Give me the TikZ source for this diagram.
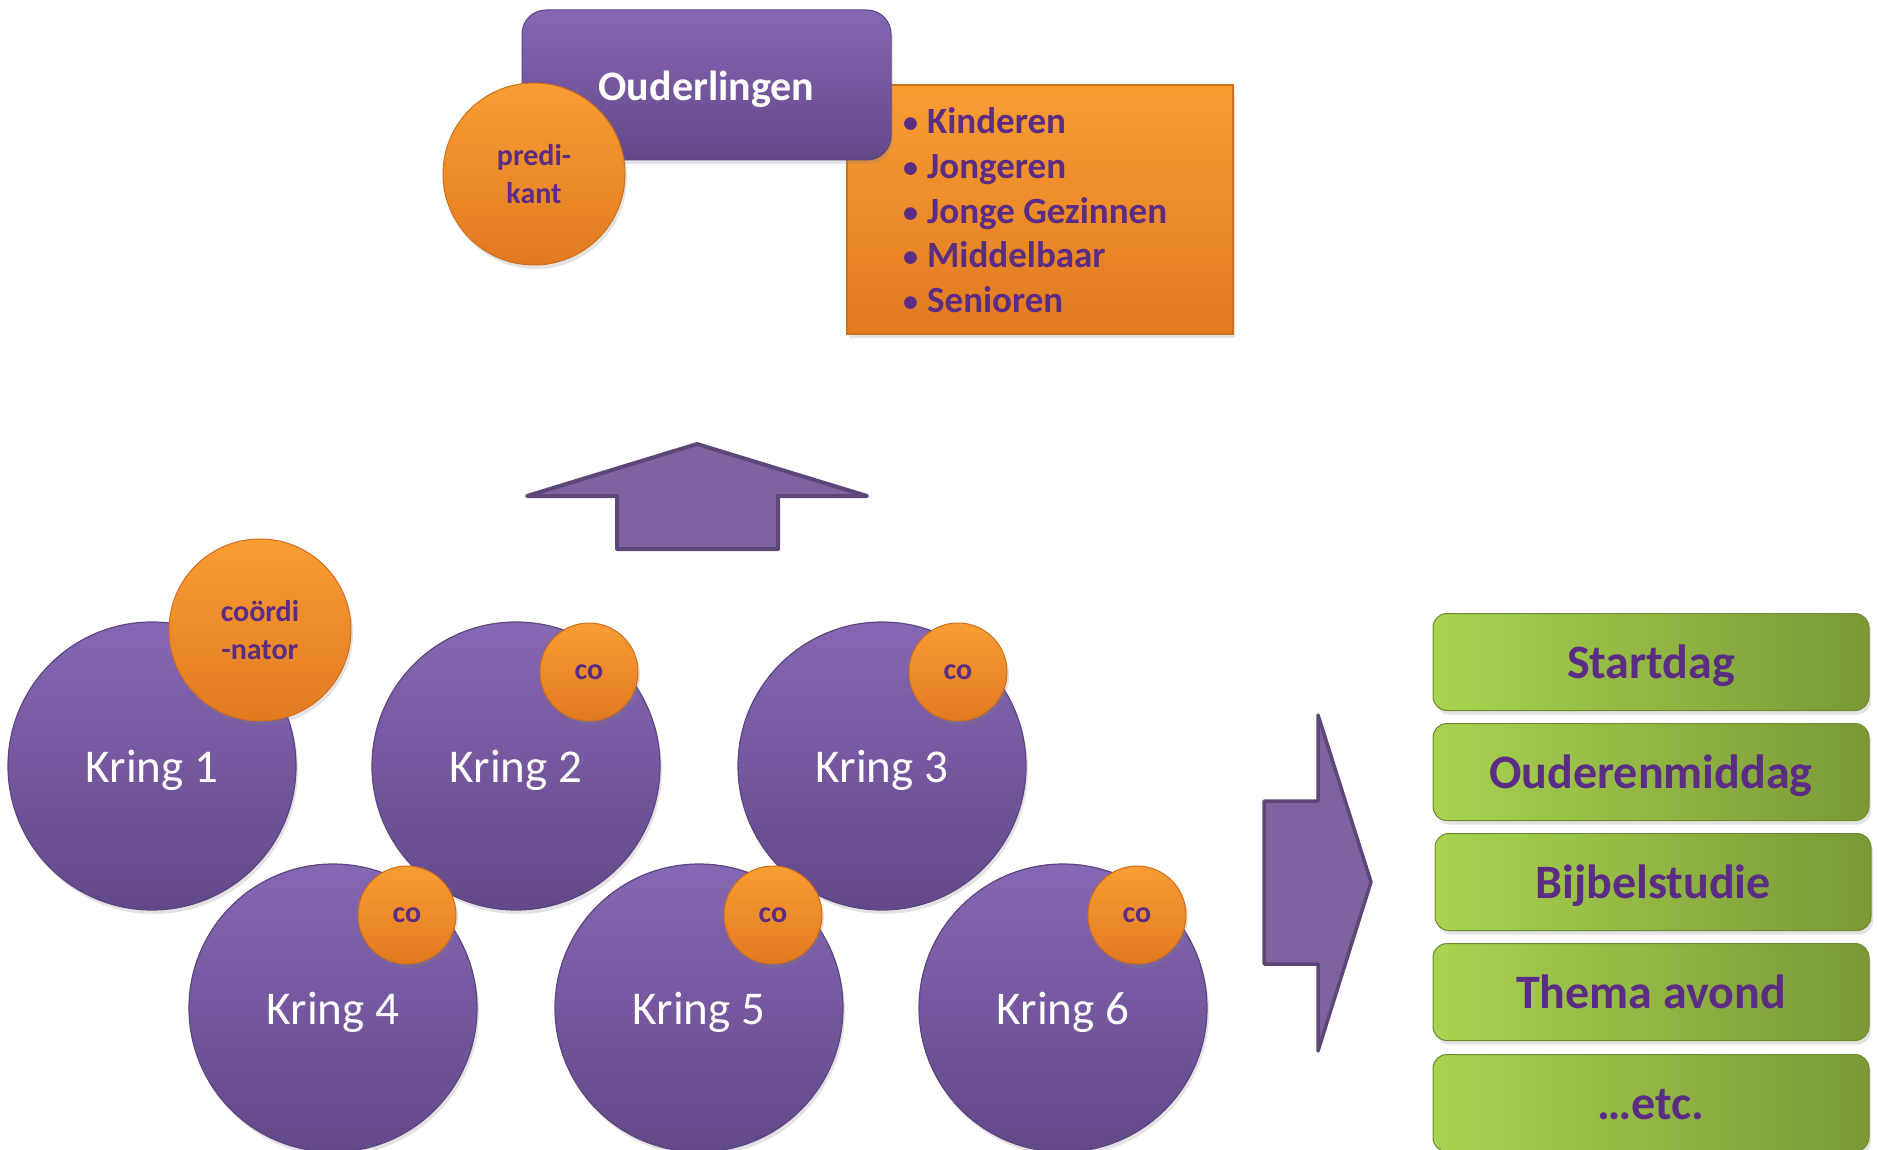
\documentclass[tikz,border=0pt]{standalone}
\usepackage{fontspec}
\setmainfont{Carlito}
\usetikzlibrary{shadows}
\definecolor{purtop}{HTML}{8667B3}
\definecolor{purbot}{HTML}{634889}
\definecolor{purline}{HTML}{5C4580}
\definecolor{ortop}{HTML}{F99D33}
\definecolor{orbot}{HTML}{E17A21}
\definecolor{orline}{HTML}{CF6F1C}
\definecolor{grleft}{HTML}{A9D350}
\definecolor{grright}{HTML}{7A9936}
\definecolor{grline}{HTML}{6E8A2E}
\definecolor{txtpur}{HTML}{5B2C84}
\definecolor{arrfill}{HTML}{7F63A0}
\definecolor{arrline}{HTML}{5E4678}
\tikzset{
  shad/.style={drop shadow={opacity=0.22, shadow xshift=2pt, shadow yshift=-4pt}},
  kring/.style={circle, minimum size=288pt, inner sep=0pt, draw=purline, line width=1.2pt,
    top color=purtop, bottom color=purbot, text=white, font=\fontsize{47}{56}\selectfont,
    text height=32pt, text depth=0pt, shad},
  cobal/.style={circle, minimum size=98pt, inner sep=0pt, draw=orline, line width=1pt,
    top color=ortop, bottom color=orbot, text=txtpur, align=center,
    font=\bfseries\fontsize{30}{38}\selectfont, shad},
  bigbal/.style={cobal, minimum size=182pt},
  greenbox/.style={rectangle, rounded corners=14pt, minimum width=436pt, minimum height=97pt,
    draw=grline, line width=1pt, left color=grleft, right color=grright, text=txtpur,
    font=\bfseries\fontsize{48}{56}\selectfont, text height=33pt, text depth=0pt, shad},
  ouderbox/.style={rectangle, rounded corners=24pt, minimum width=369pt, minimum height=150pt,
    draw=purline, line width=1pt, top color=purtop, bottom color=purbot, text=white,
    font=\bfseries\fontsize{42}{50}\selectfont, text height=31pt, text depth=0pt, shad},
  orbox/.style={rectangle, minimum width=386pt, minimum height=249pt, draw=orline, line width=1.5pt,
    top color=ortop, bottom color=orbot, shad},
  listitem/.style={anchor=base west, inner sep=0pt, text=txtpur, font=\bfseries\fontsize{37}{45}\selectfont},
  blockarrow/.style={fill=arrfill, draw=arrline, line width=4pt, line join=round},
}
\newcommand{\mybul}{{\fontsize{30}{30}\selectfont\raisebox{1.5pt}{\textbullet}}\hspace{9pt}}
\begin{document}
\begin{tikzpicture}[x=1pt,y=-1pt]
\useasboundingbox (0,0) rectangle (1877,1150);
% top group
\node[orbox] (lijst) at (1040,209.5) {};
\node[ouderbox] (ouder) at (706.5,85) {Ouderlingen};
\node[bigbal] (predikant) at (534,174) {predi-\\kant};
\node[listitem] (li1) at (903,134) {\mybul Kinderen};
\node[listitem] (li2) at (903,179) {\mybul Jongeren};
\node[listitem] (li3) at (903,224) {\mybul Jonge Gezinnen};
\node[listitem] (li4) at (903,268) {\mybul Middelbaar};
\node[listitem] (li5) at (903,313) {\mybul Senioren};
% up arrow
\draw[blockarrow] (697,444) -- (867,496) -- (778,496) -- (778,549) -- (617,549) -- (617,496) -- (527,496) -- cycle;
% kringen, first row
\node[kring] (k1) at (152,766) {Kring 1};
\node[kring] (k2) at (516,766) {Kring 2};
\node[kring] (k3) at (882,766) {Kring 3};
\node[bigbal] (coord) at (260,630) {coördi\\-nator};
\node[cobal] (co2) at (589,672) {co};
\node[cobal] (co3) at (958,672) {co};
% second row
\node[kring] (k4) at (333,1008) {Kring 4};
\node[kring] (k5) at (699,1008) {Kring 5};
\node[kring] (k6) at (1063,1008) {Kring 6};
\node[cobal] (co4) at (407,915) {co};
\node[cobal] (co5) at (773,915) {co};
\node[cobal] (co6) at (1137,915) {co};
% right arrow
\draw[blockarrow, line width=3.5pt] (1264,801) -- (1318,801) -- (1318,715) -- (1371,882) -- (1318,1051) -- (1318,964) -- (1264,964) -- cycle;
% activities
\node[greenbox] (g1) at (1651,662) {Startdag};
\node[greenbox] (g2) at (1651,772) {Ouderenmiddag};
\node[greenbox] (g3) at (1653,882) {Bijbelstudie};
\node[greenbox] (g4) at (1651,992) {Thema avond};
\node[greenbox] (g5) at (1651,1103) {…etc.};
\end{tikzpicture}
\end{document}
